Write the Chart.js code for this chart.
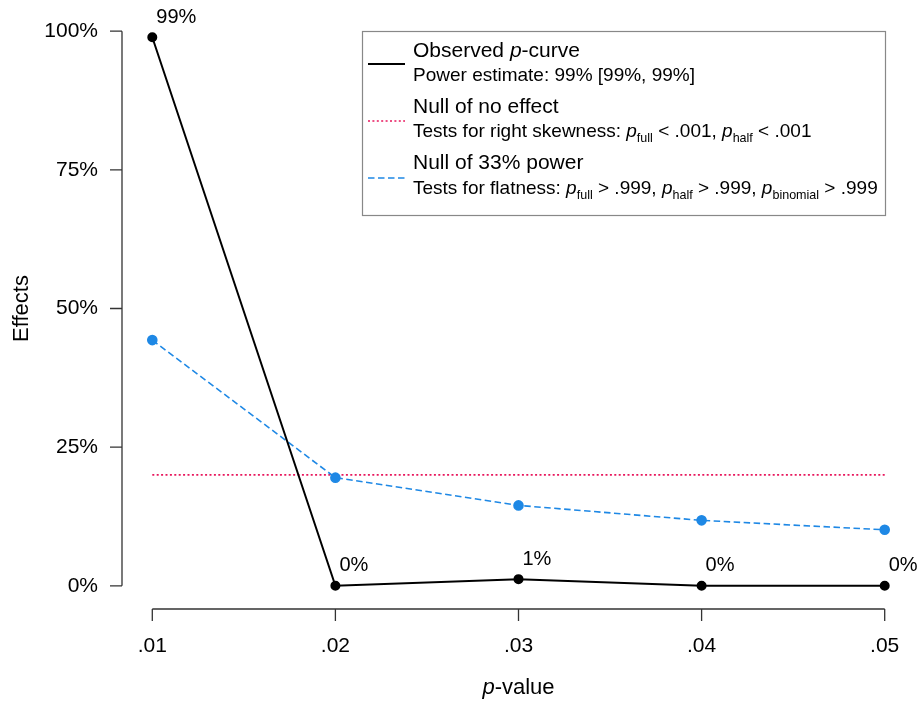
<!DOCTYPE html>
<html>
<head>
<meta charset="utf-8">
<script src="https://cdn.jsdelivr.net/npm/chart.js@4"></script>
<style>
html,body{margin:0;padding:0;background:#fff;}
#wrap{width:921px;height:701px;position:relative;}
</style>
</head>
<body>
<div id="wrap"><canvas id="c" width="921" height="701"></canvas></div>
<script>
const pValues = [0.01, 0.02, 0.03, 0.04, 0.05];
const xTickLabels = ['.01', '.02', '.03', '.04', '.05'];
const observed = [98.9, 0, 1.2, 0, 0];
const observedLabels = ['99%', '0%', '1%', '0%', '0%'];
const nullNoEffect = [20, 20, 20, 20, 20];
const null33 = [44.3, 19.5, 14.5, 11.8, 10.1];
const yTicks = [0, 25, 50, 75, 100];
const yTickLabels = ['0%', '25%', '50%', '75%', '100%'];

const FONT = '"Liberation Sans", Arial, Helvetica, sans-serif';
const RED = '#E8175D';
const BLUE = '#1E88E5';

const toXY = arr => arr.map((v, i) => ({x: pValues[i], y: v}));

function drawRich(ctx, x, y, segs, size) {
  let cx = x;
  for (const s of segs) {
    let fs = size, dy = 0, st = '';
    if (s.s === 'i') st = 'italic ';
    if (s.s === 'sub') { fs = size * 0.66; dy = size * 0.36; }
    ctx.font = st + fs + 'px ' + FONT;
    ctx.fillText(s.t, cx, y + dy);
    cx += ctx.measureText(s.t).width;
  }
}

const axesPlugin = {
  id: 'rAxes',
  afterDraw(chart) {
    const ctx = chart.ctx;
    const xs = chart.scales.x, ys = chart.scales.y;
    ctx.save();
    ctx.strokeStyle = '#333';
    ctx.lineWidth = 1.3;
    ctx.fillStyle = '#000';
    // y axis
    const ax = chart.chartArea.left - 1;
    ctx.beginPath();
    ctx.moveTo(ax, ys.getPixelForValue(yTicks[0]));
    ctx.lineTo(ax, ys.getPixelForValue(yTicks[yTicks.length - 1]));
    yTicks.forEach(t => {
      const py = ys.getPixelForValue(t);
      ctx.moveTo(ax, py); ctx.lineTo(ax - 12, py);
    });
    ctx.stroke();
    ctx.font = '21px ' + FONT;
    ctx.textAlign = 'right'; ctx.textBaseline = 'middle';
    yTicks.forEach((t, i) => {
      ctx.fillText(yTickLabels[i], ax - 24, ys.getPixelForValue(t));
    });
    // x axis
    const ay = chart.chartArea.bottom + 1;
    ctx.beginPath();
    ctx.moveTo(xs.getPixelForValue(pValues[0]), ay);
    ctx.lineTo(xs.getPixelForValue(pValues[pValues.length - 1]), ay);
    pValues.forEach(v => {
      const px = xs.getPixelForValue(v);
      ctx.moveTo(px, ay); ctx.lineTo(px, ay + 12);
    });
    ctx.stroke();
    ctx.textAlign = 'center';
    pValues.forEach((v, i) => {
      ctx.fillText(xTickLabels[i], xs.getPixelForValue(v), ay + 37);
    });
    // axis titles
    ctx.save();
    ctx.font = '22px ' + FONT;
    ctx.translate(22, (ys.getPixelForValue(0) + ys.getPixelForValue(100)) / 2);
    ctx.rotate(-Math.PI / 2);
    ctx.textAlign = 'center';
    ctx.fillText('Effects', 0, 0);
    ctx.restore();
    const midX = (xs.getPixelForValue(pValues[0]) + xs.getPixelForValue(pValues[4])) / 2;
    ctx.textAlign = 'left';
    ctx.font = 'italic 22px ' + FONT;
    const w1 = ctx.measureText('p').width;
    ctx.font = '22px ' + FONT;
    const w2 = ctx.measureText('-value').width;
    drawRich(ctx, midX - (w1 + w2) / 2, ay + 79, [{t: 'p', s: 'i'}, {t: '-value'}], 22);

    // data labels
    const meta = chart.getDatasetMeta(0);
    ctx.font = '20px ' + FONT;
    ctx.textAlign = 'left'; ctx.textBaseline = 'middle';
    meta.data.forEach((pt, i) => {
      ctx.fillText(observedLabels[i], pt.x + 4, pt.y - 20);
    });

    // legend
    const L = 362, T = 31, R = 885, B = 215;
    ctx.strokeStyle = '#888';
    ctx.lineWidth = 1.2;
    ctx.strokeRect(L + 0.5, T + 0.5, R - L, B - T);
    ctx.lineWidth = 2;
    ctx.strokeStyle = '#000';
    ctx.setLineDash([]);
    ctx.beginPath(); ctx.moveTo(368, 64); ctx.lineTo(405, 64); ctx.stroke();
    ctx.strokeStyle = RED; ctx.lineWidth = 1.6; ctx.setLineDash([2, 2.4]);
    ctx.beginPath(); ctx.moveTo(368, 121); ctx.lineTo(405, 121); ctx.stroke();
    ctx.strokeStyle = BLUE; ctx.lineWidth = 1.6; ctx.setLineDash([6.5, 3.5]);
    ctx.beginPath(); ctx.moveTo(368, 178); ctx.lineTo(408, 178); ctx.stroke();
    ctx.setLineDash([]);
    ctx.fillStyle = '#000';
    ctx.textBaseline = 'middle';
    const tx = 413;
    drawRich(ctx, tx, 51, [{t: 'Observed '}, {t: 'p', s: 'i'}, {t: '-curve'}], 21);
    drawRich(ctx, tx, 76, [{t: 'Power estimate: 99% [99%, 99%]'}], 19);
    drawRich(ctx, tx, 107, [{t: 'Null of no effect'}], 21);
    drawRich(ctx, tx, 132, [{t: 'Tests for right skewness: '}, {t: 'p', s: 'i'}, {t: 'full', s: 'sub'}, {t: ' < .001, '}, {t: 'p', s: 'i'}, {t: 'half', s: 'sub'}, {t: ' < .001'}], 19);
    drawRich(ctx, tx, 163, [{t: 'Null of 33% power'}], 21);
    drawRich(ctx, tx, 189, [{t: 'Tests for flatness: '}, {t: 'p', s: 'i'}, {t: 'full', s: 'sub'}, {t: ' > .999, '}, {t: 'p', s: 'i'}, {t: 'half', s: 'sub'}, {t: ' > .999, '}, {t: 'p', s: 'i'}, {t: 'binomial', s: 'sub'}, {t: ' > .999'}], 19);
    ctx.restore();
  }
};

new Chart(document.getElementById('c'), {
  type: 'scatter',
  data: {
    datasets: [
      {
        label: 'Observed p-curve', data: toXY(observed), showLine: true,
        borderColor: '#000', backgroundColor: '#000', borderWidth: 2,
        pointRadius: 4, pointHoverRadius: 4, order: 0
      },
      {
        label: 'Null of no effect', data: toXY(nullNoEffect), showLine: true,
        borderColor: RED, borderWidth: 1.6, borderDash: [2, 2.4],
        pointRadius: 0, order: 2
      },
      {
        label: 'Null of 33% power', data: toXY(null33), showLine: true,
        borderColor: BLUE, backgroundColor: BLUE, borderWidth: 1.6, borderDash: [6.5, 3.5],
        pointRadius: 4.5, pointHoverRadius: 4.5, order: 1
      }
    ]
  },
  options: {
    responsive: false,
    animation: false,
    layout: {padding: {left: 123, right: 7, top: 9, bottom: 93}},
    plugins: {legend: {display: false}, tooltip: {enabled: false}},
    scales: {
      x: {type: 'linear', display: false, min: 0.0084, max: 0.0516},
      y: {type: 'linear', display: false, min: -4, max: 104}
    }
  },
  plugins: [axesPlugin]
});
</script>
</body>
</html>
